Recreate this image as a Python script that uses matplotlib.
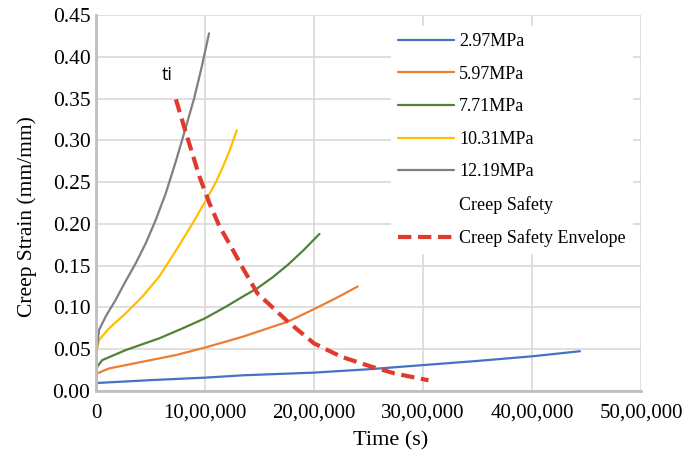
import matplotlib
matplotlib.use("Agg")
import matplotlib.pyplot as plt
from matplotlib.lines import Line2D

# ---- data (time in seconds, strain in mm/mm) ----
t_297 = [0, 3e3, 1e4, 0.5e6, 1.0e6, 1.35e6, 2.0e6, 2.5e6, 3.0e6, 3.5e6, 4.0e6, 4.44e6]
e_297 = [0, 0.008, 0.0096, 0.013, 0.016, 0.0188, 0.022, 0.026, 0.031, 0.036, 0.0415, 0.0476]

t_597 = [0, 3e3, 1e4, 0.12e6, 0.426e6, 0.733e6, 1.0e6, 1.347e6, 1.76e6, 2.0e6, 2.2e6, 2.4e6]
e_597 = [0, 0.017, 0.021, 0.027, 0.035, 0.043, 0.052, 0.065, 0.083, 0.098, 0.111, 0.125]

t_771 = [0, 3e3, 1e4, 0.058e6, 0.273e6, 0.58e6, 0.795e6, 1.0e6, 1.193e6, 1.347e6,
         1.48e6, 1.62e6, 1.76e6, 1.9e6, 2.05e6]
e_771 = [0, 0.022, 0.029, 0.037, 0.049, 0.063, 0.075, 0.087, 0.101, 0.113,
         0.123, 0.136, 0.151, 0.168, 0.188]

t_1031 = [0, 3e3, 1e4, 0.028e6, 0.12e6, 0.273e6, 0.426e6, 0.58e6, 0.733e6, 0.887e6,
          1.025e6, 1.10e6, 1.163e6, 1.23e6, 1.292e6]
e_1031 = [0, 0.040, 0.051, 0.061, 0.075, 0.093, 0.113, 0.137, 0.168, 0.2007,
          0.232, 0.250, 0.268, 0.289, 0.312]

t_1219 = [0, 3e3, 1e4, 0.028e6, 0.088e6, 0.18e6, 0.27e6, 0.365e6, 0.457e6, 0.549e6,
          0.641e6, 0.733e6, 0.825e6, 0.902e6, 0.97e6, 1.037e6]
e_1219 = [0, 0.042, 0.053, 0.073, 0.089, 0.109, 0.131, 0.153, 0.177, 0.205,
          0.237, 0.275, 0.316, 0.351, 0.388, 0.428]

t_env = [0.733e6, 0.825e6, 0.948e6, 1.04e6, 1.133e6, 1.255e6, 1.347e6, 1.48e6,
         1.76e6, 2.0e6, 2.25e6, 2.53e6, 2.74e6, 3.05e6]
e_env = [0.349, 0.309, 0.257, 0.225, 0.197, 0.169, 0.147, 0.117,
         0.083, 0.057, 0.041, 0.029, 0.021, 0.0128]

labels = ["2.97MPa", "5.97MPa", "7.71MPa", "10.31MPa", "12.19MPa"]
colors = ["#4472C4", "#ED7D31", "#548235", "#FFC000", "#808080"]

x_ticks = [0, 1e6, 2e6, 3e6, 4e6, 5e6]
x_tick_labels = ["0", "10,00,000", "20,00,000", "30,00,000", "40,00,000", "50,00,000"]
y_ticks = [0.00, 0.05, 0.10, 0.15, 0.20, 0.25, 0.30, 0.35, 0.40, 0.45]

plt.rcParams['font.family'] = ['Liberation Serif', 'DejaVu Serif']

W, H = 685, 459
fig = plt.figure(figsize=(6.85, 4.59), dpi=100)
ax = fig.add_axes([96 / W, 1 - 391 / H, (641 - 96) / W, (391 - 15) / H])

series = [(t_297, e_297), (t_597, e_597), (t_771, e_771), (t_1031, e_1031), (t_1219, e_1219)]
handles = []
for (t, e), lab, c in zip(series, labels, colors):
    h, = ax.plot(t, e, color=c, lw=1.6, label=lab, solid_capstyle='round',
                 solid_joinstyle='round')
    handles.append(h)

safety = Line2D([], [], color='none', lw=0, label="Creep Safety")
handles.append(safety)
env, = ax.plot(t_env, e_env, color="#E03A2F", lw=3, ls=(0, (3.2, 1.6)),
               label="Creep Safety Envelope")
handles.append(env)

ax.text(0.655e6, 0.378, "ti", family="Open Sans", fontsize=13, ha='center',
        va='center', color='black')

ax.set_xlim(0, 5e6)
ax.set_ylim(0, 0.45)
ax.set_xticks(x_ticks)
ax.set_xticklabels(x_tick_labels)
ax.set_yticks(y_ticks)
ax.set_yticklabels([f"{v:.2f}" for v in y_ticks])
ax.tick_params(axis='both', length=0, labelsize=15)
ax.tick_params(axis='y', pad=4, labelsize=15.5)
ax.tick_params(axis='x', pad=9)
ax.grid(True, color="#D9D9D9", lw=1.2)
ax.set_axisbelow(True)
for s in ['top', 'right']:
    ax.spines[s].set_visible(False)
for s in ['left', 'bottom']:
    ax.spines[s].set_color("#BFBFBF")
    ax.spines[s].set_linewidth(2)

fig.text(391 / W, 1 - 441 / H, "Time (s)", fontsize=16, ha='center', va='center')
fig.text(27 / W, 1 - 217 / H, "Creep Strain (mm/mm)", fontsize=15.5, ha='center',
         va='center', rotation=90)

leg = ax.legend(handles=handles, loc='upper left',
                bbox_to_anchor=(382 / W, 1 - 17 / H), bbox_transform=fig.transFigure,
                fontsize=13, frameon=True, facecolor='white', edgecolor='none', framealpha=1,
                handlelength=3.1, handletextpad=0.28, labelspacing=0.86, borderpad=0.4,
                fancybox=False)

fig.savefig("out.png", dpi=100)
